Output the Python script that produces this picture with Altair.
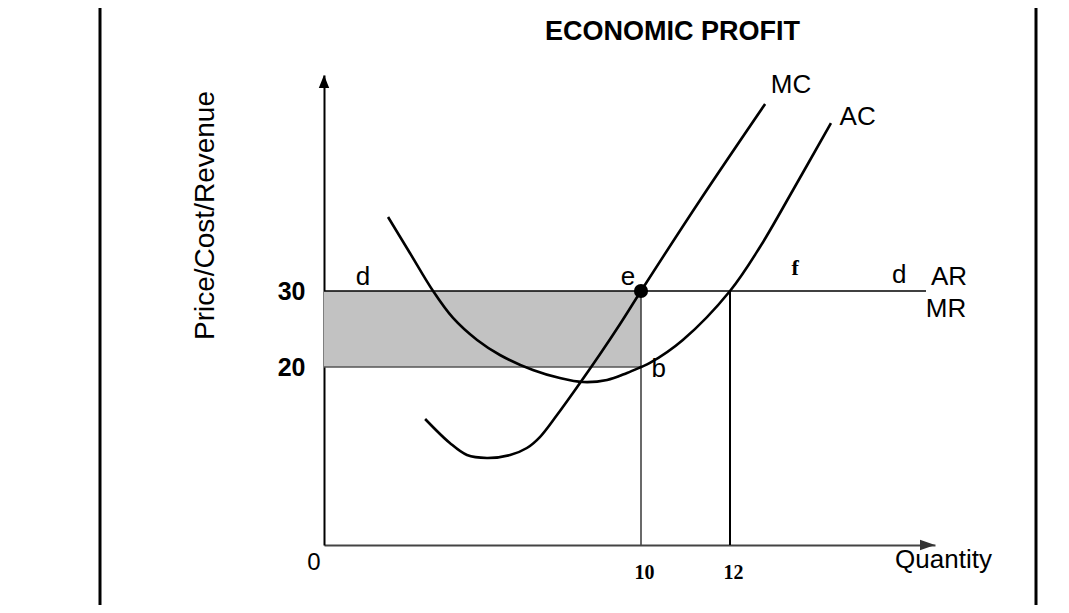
import altair as alt
import pandas as pd

# ---------------- data ----------------
quantity_ticks = [10, 12]
price_ticks = [20, 30]
price = 30            # d = AR = MR
avg_cost_at_q = 20    # point b
q_profit = 10         # MR = MC (point e)
q_breakeven = 12      # P = AC (point f)
demand_end_q = 19.65

ac_q = [2.02, 2.71, 3.44, 4.07, 4.83, 5.55, 6.59, 7.44, 8.17, 8.93, 9.56, 10.0, 10.20, 10.94, 12.0, 13.17, 14.46, 15.94]
ac_p = [40.28, 35.28, 30.0, 26.45, 23.55, 21.58, 19.66, 18.76, 18.31, 18.54, 19.33, 20.0, 20.53, 23.55, 30.0, 36.11, 44.03, 53.33]

mc_q = [3.19, 3.97, 4.51, 5.14, 5.87, 6.40, 6.81, 7.35, 7.92, 8.71, 9.34, 10.0, 11.33, 13.37]
mc_p = [14.16, 11.46, 10.11, 9.78, 10.11, 10.90, 12.13, 14.61, 17.42, 21.71, 25.66, 30.0, 42.64, 55.97]

label_text = ["d", "e", "b", "d", "AR", "MR", "MC", "AC"]
label_q = [1.23, 9.59, 10.40, 18.6, 20.55, 20.43, 14.38, 16.98]
label_p = [30.83, 30.83, 18.88, 31.11, 30.83, 26.58, 57.5, 53.06]

serif_text = ["f"]
serif_q = [14.54]
serif_p = [32.22]

origin_text = ["0"]
origin_q = [-0.32]
origin_p = [-2.81]

axis_top_q = [0]
axis_top_p = [60]
axis_right_q = [20]
axis_right_p = [0]

# ---------------- scales (schematic, piecewise) ----------------
W, H = 611, 470
xs = alt.Scale(domain=[0, 10, 12, 20], range=[0, 317, 406, W], zero=False, nice=False)
ys = alt.Scale(domain=[0, 20, 30, 60], range=[H, 292, 216, 0], zero=False, nice=False)

SANS = "Liberation Sans"
SERIF = "Liberation Serif"

xaxis = alt.Axis(
    values=quantity_ticks, grid=False, ticks=False, tickSize=0,
    domainColor="#444444", domainWidth=2,
    labelFont=SERIF, labelFontWeight="bold", labelFontSize=20, labelColor="black",
    labelBaseline="alphabetic", labelPadding=33, labelOffset=3, labelOverlap=False,
    title="Quantity", titleFont=SANS, titleFontSize=26, titleFontWeight="normal",
    titleColor="black", titleX=619, titleY=22, titleBaseline="alphabetic", titleAlign="center",
)
yaxis = alt.Axis(
    values=price_ticks, grid=False, ticks=False, tickSize=0,
    domainColor="black", domainWidth=2,
    labelFont=SANS, labelFontWeight="bold", labelFontSize=25, labelColor="black",
    labelAlign="right", labelBaseline="middle", labelPadding=19, labelOverlap=False,
    title="Price/Cost/Revenue", titleFont=SANS, titleFontSize=28, titleFontWeight="normal",
    titleColor="black", titleAngle=270, titleX=-111, titleY=140,
    titleBaseline="alphabetic", titleAlign="center",
)


def X(field):
    return alt.X(field, type="quantitative", scale=xs, axis=xaxis)


def Y(field):
    return alt.Y(field, type="quantitative", scale=ys, axis=yaxis)


# profit rectangle
rect_df = pd.DataFrame({"q0": [0], "q1": [q_profit], "p0": [avg_cost_at_q], "p1": [price]})
profit = alt.Chart(rect_df).mark_rect(color="#c2c2c2").encode(
    x=X("q0"), x2="q1", y=Y("p0"), y2="p1")

cost_line = alt.Chart(rect_df).mark_rule(color="#555555", strokeWidth=1.6).encode(
    x=X("q0"), x2="q1", y=Y("p0"))

demand_df = pd.DataFrame({"q0": [0], "q1": [demand_end_q], "p": [price]})
demand = alt.Chart(demand_df).mark_rule(color="black", strokeWidth=1.7).encode(
    x=X("q0"), x2="q1", y=Y("p"))

v10_df = pd.DataFrame({"q": [q_profit], "p0": [0], "p1": [price]})
v10 = alt.Chart(v10_df).mark_rule(color="#444444", strokeWidth=1.6).encode(
    x=X("q"), y=Y("p0"), y2="p1")

v12_df = pd.DataFrame({"q": [q_breakeven], "p0": [0], "p1": [price]})
v12 = alt.Chart(v12_df).mark_rule(color="black", strokeWidth=2).encode(
    x=X("q"), y=Y("p0"), y2="p1")

ac_df = pd.DataFrame({"q": ac_q, "p": ac_p})
ac = alt.Chart(ac_df).mark_line(color="black", strokeWidth=2.6, interpolate="catmull-rom").encode(
    x=X("q"), y=Y("p"))

mc_df = pd.DataFrame({"q": mc_q, "p": mc_p})
mc = alt.Chart(mc_df).mark_line(color="black", strokeWidth=2.6, interpolate="catmull-rom").encode(
    x=X("q"), y=Y("p"))

e_df = pd.DataFrame({"q": [q_profit], "p": [price]})
e_dot = alt.Chart(e_df).mark_circle(color="black", opacity=1, size=200).encode(
    x=X("q"), y=Y("p"))

up_df = pd.DataFrame({"q": axis_top_q, "p": axis_top_p})
arrow_up = alt.Chart(up_df).mark_point(
    shape="M0,0L0.4,1L-0.4,1Z", filled=True, color="black", opacity=1, size=676, strokeWidth=0
).encode(x=X("q"), y=Y("p"))

right_df = pd.DataFrame({"q": axis_right_q, "p": axis_right_p})
arrow_right = alt.Chart(right_df).mark_point(
    shape="M0,0L-1,-0.35L-1,0.35Z", filled=True, color="#333333", opacity=1, size=900, strokeWidth=0
).encode(x=X("q"), y=Y("p"))

lab_df = pd.DataFrame({"t": label_text, "q": label_q, "p": label_p})
labels = alt.Chart(lab_df).mark_text(
    font=SANS, fontSize=26, color="black", align="center", baseline="alphabetic"
).encode(x=X("q"), y=Y("p"), text="t")

serif_df = pd.DataFrame({"t": serif_text, "q": serif_q, "p": serif_p})
serif_labels = alt.Chart(serif_df).mark_text(
    font=SERIF, fontSize=22, fontWeight="bold", color="black", align="center", baseline="alphabetic"
).encode(x=X("q"), y=Y("p"), text="t")

origin_df = pd.DataFrame({"t": origin_text, "q": origin_q, "p": origin_p})
origin = alt.Chart(origin_df).mark_text(
    font=SANS, fontSize=24, color="black", align="center", baseline="alphabetic"
).encode(x=X("q"), y=Y("p"), text="t")

title_df = pd.DataFrame({"t": ["ECONOMIC PROFIT"]})
title = alt.Chart(title_df).mark_text(
    font=SANS, fontSize=27, fontWeight="bold", color="black", align="center", baseline="alphabetic"
).encode(x=alt.value(348.5), y=alt.value(-35), text="t")

border_df = pd.DataFrame({"k": ["l"]})
left_border = alt.Chart(border_df).mark_rule(color="black", strokeWidth=3).encode(
    x=alt.value(-224), y=alt.value(-67), y2=alt.value(530))
right_border = alt.Chart(border_df).mark_rule(color="black", strokeWidth=3).encode(
    x=alt.value(712), y=alt.value(-67), y2=alt.value(530))

chart = alt.layer(
    profit, cost_line, v10, v12, demand, ac, mc, e_dot, arrow_up, arrow_right,
    labels, serif_labels, origin, title, left_border, right_border,
).properties(
    width=W, height=H,
    autosize=alt.AutoSizeParams(type="none"),
    padding={"left": 316, "top": 67, "right": 126, "bottom": 60},
    background="white",
).configure_view(strokeWidth=0)

chart.save("out.html", embed_options={"renderer": "svg", "actions": False})
